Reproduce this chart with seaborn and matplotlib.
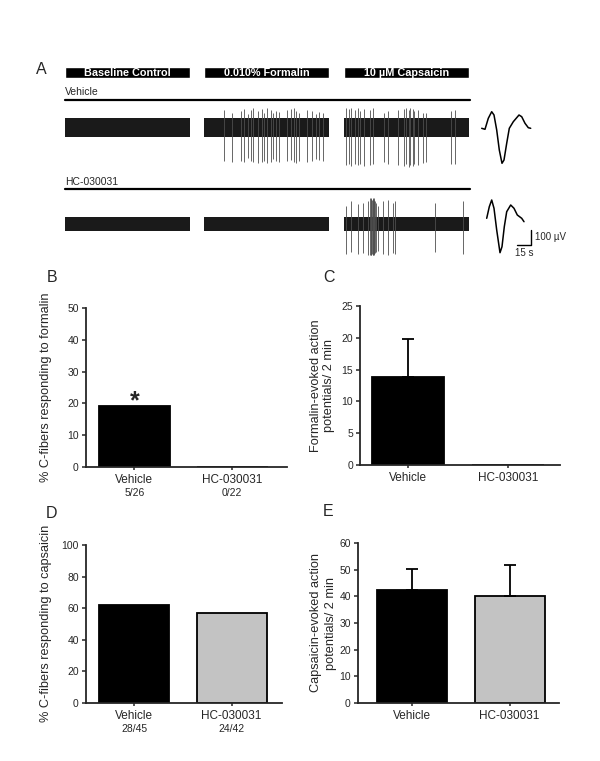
import numpy as np
import pandas as pd
import matplotlib
matplotlib.use("Agg")
import matplotlib.pyplot as plt
import seaborn as sns
from matplotlib.lines import Line2D

W, H = 600, 761

# ---------------- panel A: recordings ----------------
conditions = ["Baseline Control", "0.010% Formalin", "10 \u00b5M Capsaicin"]
row_names = ["Vehicle", "HC-030031"]
noise_uv = [61, 45]          # half height of the noise band, per row (uV)

# spike positions (fraction of each segment) and excursions up / down (uV)
veh_form_t = [0.16, 0.22, 0.29, 0.32, 0.35, 0.37, 0.39, 0.43, 0.46, 0.48, 0.50, 0.53, 0.55,
              0.57, 0.60, 0.66, 0.69, 0.72, 0.73, 0.76, 0.82, 0.86, 0.89, 0.92, 0.95]
veh_form_up = [120, 100, 110, 125, 90, 115, 130, 110, 125, 100, 130, 120, 95,
               110, 105, 115, 125, 130, 110, 95, 120, 110, 90, 105, 100]
veh_form_dn = [220, 230, 225, 230, 200, 225, 230, 235, 230, 225, 235, 230, 210,
               225, 230, 225, 215, 230, 235, 220, 230, 225, 210, 215, 220]

veh_cap_t = [0.02, 0.04, 0.06, 0.09, 0.11, 0.13, 0.16, 0.21, 0.23, 0.32, 0.35, 0.43,
             0.48, 0.50, 0.52, 0.53, 0.55, 0.56, 0.59, 0.63, 0.66, 0.86, 0.89]
veh_cap_up = [130, 125, 130, 120, 130, 110, 125, 120, 130, 100, 110, 115,
              125, 130, 120, 130, 125, 110, 120, 100, 95, 110, 120]
veh_cap_dn = [250, 240, 255, 245, 250, 240, 255, 250, 245, 230, 240, 250,
              255, 245, 260, 250, 255, 240, 250, 235, 230, 240, 245]

hc_cap_t = [0.02, 0.06, 0.11, 0.15, 0.19, 0.21, 0.215, 0.22, 0.225, 0.23, 0.235, 0.24,
            0.245, 0.25, 0.26, 0.27, 0.31, 0.35, 0.39, 0.41, 0.73, 0.95]
hc_cap_up = [120, 150, 130, 140, 150, 170, 165, 170, 160, 170, 165, 170,
             160, 150, 140, 120, 150, 160, 140, 150, 140, 150]
hc_cap_dn = [200, 190, 200, 195, 205, 210, 205, 210, 200, 210, 205, 210,
             200, 195, 190, 180, 200, 205, 195, 200, 190, 200]

# spikes[row][segment] = (times, up, down)
spikes = [
    [([], [], []), (veh_form_t, veh_form_up, veh_form_dn), (veh_cap_t, veh_cap_up, veh_cap_dn)],
    [([], [], []), ([], [], []), (hc_cap_t, hc_cap_up, hc_cap_dn)],
]

# averaged spike waveforms (sample index in px, amplitude)
wave1_t = [0, 3.3, 6.6, 10, 12.3, 15, 17.6, 20.3, 22.3, 25, 27.6, 31.6, 37.3, 40, 43.3, 46.6, 49]
wave1_v = [0, -1, 10, 16.6, 13.3, -1.7, -21.7, -35, -31.7, -15, 0, 6.6, 13.3, 11.6, 5, 0.6, 0]
wave2_t = [0, 2.6, 5, 7.3, 10, 13.3, 15.3, 17.6, 20, 24, 27.3, 30.6, 35, 37.3]
wave2_v = [0, 11.6, 18.3, 10, -11.7, -34.4, -28.4, -8.4, 6.6, 13.3, 10, 3.3, 0, -3.4]

# ---------------- panels B-E ----------------
groups = ["Vehicle", "HC-030031"]
pct_formalin = [19.2, 0.0]
n_formalin = ["5/26", "0/22"]
formalin_ap = [13.9, 0.0]
formalin_sem = [5.85, 0.0]
pct_capsaicin = [62.2, 57.1]
n_capsaicin = ["28/45", "24/42"]
capsaicin_ap = [42.4, 40.3]
capsaicin_sem = [8.0, 11.4]

sns.set_style("ticks")
plt.rcParams["font.family"] = ["Liberation Sans", "DejaVu Sans"]

fig = plt.figure(figsize=(W / 100, H / 100), dpi=100)


def px_axes(x0, y0, x1, y1):
    return fig.add_axes([x0 / W, 1 - y1 / H, (x1 - x0) / W, (y1 - y0) / H])


def fx(x):
    return x / W


def fy(y):
    return 1 - y / H


seg_gap = 0.115
seg_starts = [i * (1 + seg_gap) for i in range(3)]
xmax = seg_starts[-1] + 1.01

# header boxes
hax = px_axes(65, 66.7, 470, 78.3)
hax.bar(seg_starts, 1, width=1, align="edge", color="black")
for s, c in zip(seg_starts, conditions):
    hax.text(s + 0.5, 0.5, c, color="white", fontsize=7.8, fontweight="bold",
             ha="center", va="center")
hax.set_xlim(0, xmax)
hax.set_ylim(0, 1)
hax.axis("off")

# row labels + lines
for name, ty, ly in zip(row_names, [92, 181.7], [99.5, 189]):
    fig.text(fx(65), fy(ty), name, fontsize=7.5, ha="left", va="center")
    fig.add_artist(Line2D([fx(65), fx(470)], [fy(ly), fy(ly)], color="black", lw=1.6))

# traces
uv_per_px = 100 / 15
row_boxes = [(104, 172, 127.5), (194, 260, 223.9)]
for r, (y0, y1, yc) in enumerate(row_boxes):
    ax = px_axes(65, y0, 470, y1)
    for s, (t, up, dn) in zip(seg_starts, spikes[r]):
        ax.fill_between([s, s + 1], -noise_uv[r], noise_uv[r], color="#1a1a1a", lw=0)
        if len(t):
            ax.vlines(s + np.array(t), -np.array(dn), np.array(up), color="0.3", lw=0.6)
    ax.set_xlim(0, xmax)
    ax.set_ylim(-(y1 - yc) * uv_per_px, (yc - y0) * uv_per_px)
    ax.axis("off")

# waveforms + scale bar
w1 = px_axes(480, 105, 535, 170)
w1.plot(wave1_t, wave1_v, color="black", lw=1.1)
w1.set_xlim(-1.7, 53.3)
w1.set_ylim(-41.7, 23.3)
w1.axis("off")

w2 = px_axes(484, 195, 540, 260)
w2.plot(wave2_t, wave2_v, color="black", lw=1.1)
w2.plot([30, 44, 44], [-26.7, -26.7, -11.7], color="black", lw=1.0, clip_on=False)
w2.text(48.3, -18.4, "100 \u00b5V", fontsize=7, ha="left", va="center")
w2.text(28.3, -34.7, "15 s", fontsize=7, ha="left", va="center")
w2.set_xlim(-2.7, 53.3)
w2.set_ylim(-41.7, 23.3)
w2.axis("off")


def bar_panel(box, vals, colors, ylim, yticks, ylabel, label_x, xlim,
              sem=None, counts=None, spacing=1.1):
    ax = px_axes(*box)
    df = pd.DataFrame({"group": groups, "value": vals})
    sns.barplot(data=df, x="group", y="value", hue="group", palette=colors,
                legend=False, width=0.72, edgecolor="black", linewidth=1.3,
                errorbar=None, ax=ax)
    if sem is not None:
        idx = [i for i, e in enumerate(sem) if e > 0]
        ax.errorbar(idx, [vals[i] for i in idx],
                    yerr=[[0] * len(idx), [sem[i] for i in idx]],
                    fmt="none", ecolor="black", elinewidth=1.3, capsize=4,
                    capthick=1.3, zorder=1)
    ax.set_ylim(*ylim)
    ax.set_yticks(yticks)
    ax.set_xlim(*xlim)
    ax.set_xlabel("")
    ax.set_ylabel(ylabel, fontsize=9.2, linespacing=spacing)
    ax.yaxis.set_label_coords(label_x, 0.5)
    sns.despine(ax=ax)
    for sp in ["left", "bottom"]:
        ax.spines[sp].set_linewidth(1.3)
    ax.tick_params(axis="y", labelsize=7.5, length=3, width=1.1, pad=2)
    ax.tick_params(axis="x", labelsize=8.5, length=2, width=1.1, pad=3)
    if counts is not None:
        for i, c in enumerate(counts):
            ax.annotate(c, xy=(i, 0), xycoords=ax.get_xaxis_transform(),
                        xytext=(0, -19.2), textcoords="offset points",
                        ha="center", va="center", fontsize=7.5)
    return ax


bax = bar_panel((85.7, 308.3, 286.7, 466.7), pct_formalin, ["black", "#c3c3c3"],
                (0, 50), range(0, 51, 10), "% C-fibers responding to formalin",
                -0.17, (-0.496, 1.555), counts=n_formalin)
bax.annotate("*", xy=(0, pct_formalin[0]), xytext=(0, -5), textcoords="offset points",
             ha="center", va="bottom", fontsize=18, fontweight="bold")

bar_panel((360, 306, 560, 465), formalin_ap, ["black", "#c3c3c3"],
          (0, 25), range(0, 26, 5), "Formalin-evoked action\npotentials/ 2 min",
          -0.125, (-0.483, 1.517), sem=formalin_sem, spacing=1.1)

bar_panel((85.7, 545, 281.7, 702.7), pct_capsaicin, ["black", "#c3c3c3"],
          (0, 100), range(0, 101, 20), "% C-fibers responding to capsaicin",
          -0.17, (-0.497, 1.513), counts=n_capsaicin)

bar_panel((357.7, 543.3, 559.3, 702.7), capsaicin_ap, ["black", "#c3c3c3"],
          (0, 60), range(0, 61, 10), "Capsaicin-evoked action\npotentials/ 2 min",
          -0.105, (-0.559, 1.509), sem=capsaicin_sem, spacing=1.3)

# panel letters
letter_pos = [(41, 70), (51.7, 277), (329, 277), (51.7, 513), (328, 512)]
for letter, (x, y) in zip("ABCDE", letter_pos):
    fig.text(fx(x), fy(y), letter, fontsize=11.5, ha="center", va="center")

fig.savefig("out.png", dpi=100)
